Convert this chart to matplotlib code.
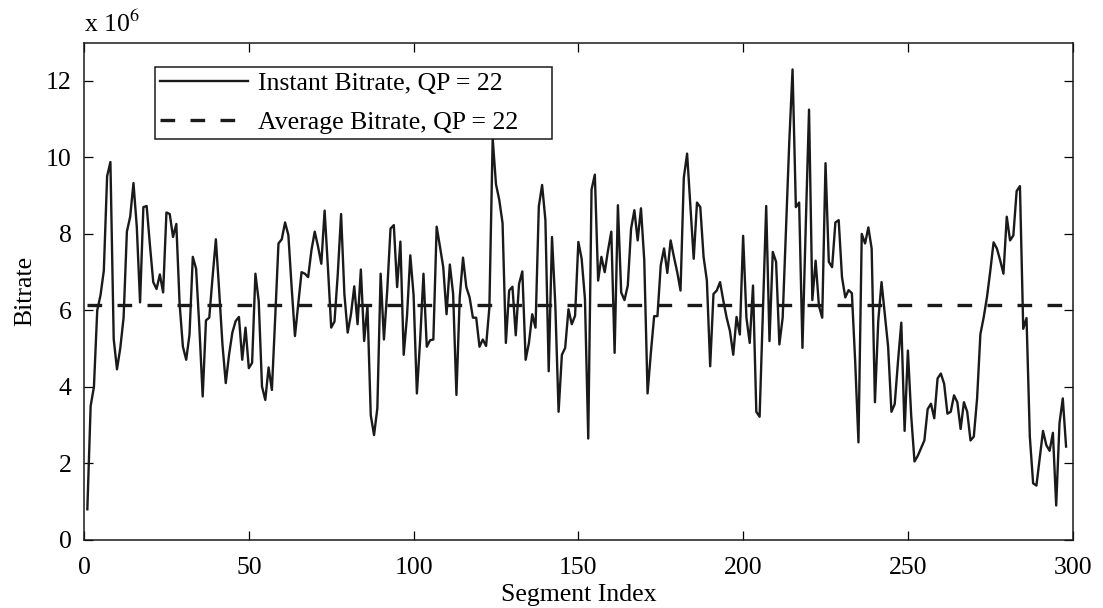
import matplotlib
matplotlib.use("Agg")
import matplotlib.pyplot as plt

plt.rcParams['font.family'] = ['Liberation Serif', 'DejaVu Serif']
plt.rcParams['mathtext.fontset'] = 'stix'

# instant bitrate per segment, in units of 10^6
bitrate = [
    0.8, 3.5, 4.0, 6.0, 6.4, 7.04, 9.51, 9.88, 5.25, 4.46,
    5.02, 5.81, 8.06, 8.45, 9.33, 8.19, 6.21, 8.70, 8.73, 7.70,
    6.74, 6.56, 6.94, 6.47, 8.56, 8.52, 7.92, 8.26, 6.17, 5.05,
    4.71, 5.37, 7.40, 7.09, 5.55, 3.75, 5.74, 5.81, 6.87, 7.86,
    6.52, 5.11, 4.10, 4.84, 5.42, 5.72, 5.83, 4.71, 5.55, 4.49,
    4.63, 6.96, 6.25, 4.01, 3.66, 4.51, 3.92, 5.8, 7.75, 7.86,
    8.30, 7.97, 6.6, 5.33, 6.17, 7.00, 6.96, 6.87, 7.57, 8.06,
    7.67, 7.22, 8.61, 7.13, 5.55, 5.71, 6.96, 8.52, 6.43, 5.42,
    5.90, 6.63, 5.64, 7.07, 5.20, 6.12, 3.26, 2.74, 3.44, 6.96,
    5.24, 6.52, 8.14, 8.23, 6.61, 7.80, 4.84, 5.85, 7.44, 6.4,
    3.83, 5.24, 6.96, 5.05, 5.22, 5.24, 8.19, 7.67, 7.13, 5.90,
    7.20, 6.43, 3.79, 6.34, 7.38, 6.61, 6.34, 5.81, 5.81, 5.05,
    5.24, 5.07, 6.08, 10.5, 9.3, 8.89, 8.28, 5.15, 6.52, 6.62,
    5.35, 6.69, 7.02, 4.71, 5.15, 5.90, 5.55, 8.72, 9.28, 8.36,
    4.41, 7.92, 6.16, 3.35, 4.84, 5.02, 6.03, 5.64, 5.86, 7.79,
    7.35, 6.3, 2.65, 9.16, 9.55, 6.78, 7.40, 7.00, 7.57, 8.06,
    4.89, 8.75, 6.47, 6.27, 6.65, 8.14, 8.62, 7.83, 8.67, 7.31,
    3.83, 4.89, 5.85, 5.85, 7.18, 7.62, 6.98, 7.83, 7.40, 7.00,
    6.52, 9.47, 10.1, 8.73, 7.35, 8.82, 8.70, 7.40, 6.78, 4.54,
    6.43, 6.52, 6.74, 6.25, 5.81, 5.46, 4.84, 5.83, 5.37, 7.95,
    5.81, 5.15, 6.65, 3.35, 3.22, 6.0, 8.73, 5.2, 7.53, 7.27,
    5.11, 5.81, 8.1, 10.4, 12.3, 8.70, 8.82, 5.02, 8.2, 11.25,
    6.27, 7.30, 6.12, 5.81, 9.85, 7.27, 7.13, 8.30, 8.36, 6.87,
    6.34, 6.53, 6.45, 4.67, 2.55, 8.0, 7.75, 8.17, 7.62, 3.6,
    5.72, 6.74, 5.90, 5.05, 3.35, 3.55, 4.67, 5.68, 2.85, 4.95,
    3.25, 2.05, 2.2, 2.4, 2.6, 3.42, 3.56, 3.18, 4.22, 4.35,
    4.08, 3.3, 3.35, 3.78, 3.6, 2.9, 3.6, 3.35, 2.6, 2.7,
    3.7, 5.38, 5.82, 6.35, 7.03, 7.78, 7.62, 7.31, 6.96, 8.45,
    7.83, 7.96, 9.12, 9.25, 5.52, 5.8, 2.7, 1.48, 1.42, 2.13,
    2.85, 2.48, 2.33, 2.8, 0.9, 3.05, 3.7, 2.44,
]
segments = list(range(1, len(bitrate) + 1))
avg_bitrate = 6.13
qp = 22

fs = 18.5

fig = plt.figure(figsize=(11.03, 6.08), dpi=100)
ax = fig.add_axes([0.0762, 0.112, 0.8963, 0.8178])

ax.plot(segments, bitrate, color='#1a1a1a', lw=1.7,
        label='Instant Bitrate, QP = %d' % qp)
ax.plot(segments, [avg_bitrate] * len(segments), color='#1a1a1a', lw=2.4,
        linestyle=(0, (4.4, 4.6)), label='Average Bitrate, QP = %d' % qp)

ax.set_xlim(0, 300)
ax.set_ylim(0, 13)
ax.set_xticks(range(0, 301, 50))
ax.set_yticks(range(0, 13, 2))
ax.tick_params(direction='in', top=True, right=True, length=6.5, width=0.9,
               labelsize=fs)
ax.tick_params(axis='x', pad=12)
ax.tick_params(axis='y', pad=9)
for s in ax.spines.values():
    s.set_linewidth(1.1)
    s.set_color('#1a1a1a')

ax.set_xlabel('Segment Index', fontsize=fs, labelpad=4)
ax.set_ylabel('Bitrate', fontsize=fs, labelpad=7)
ax.text(0, 1.012, r'x 10$^{6}$', transform=ax.transAxes, fontsize=fs,
        ha='left', va='bottom')

# MATLAB-style legend box, wider than its text
leg = ax.legend(loc='upper left',
                bbox_to_anchor=(155 / 1103, 1 - 140 / 608, 397 / 1103, 73 / 608),
                bbox_transform=fig.transFigure, borderaxespad=0, mode='expand',
                fontsize=fs, frameon=True, fancybox=False, shadow=False,
                handlelength=3.4, handletextpad=0.39, borderpad=0.2,
                labelspacing=0.62)
leg.get_frame().set_edgecolor('#1a1a1a')
leg.get_frame().set_linewidth(1.1)
leg.get_frame().set_alpha(1)

fig.savefig('out.png', dpi=100)
